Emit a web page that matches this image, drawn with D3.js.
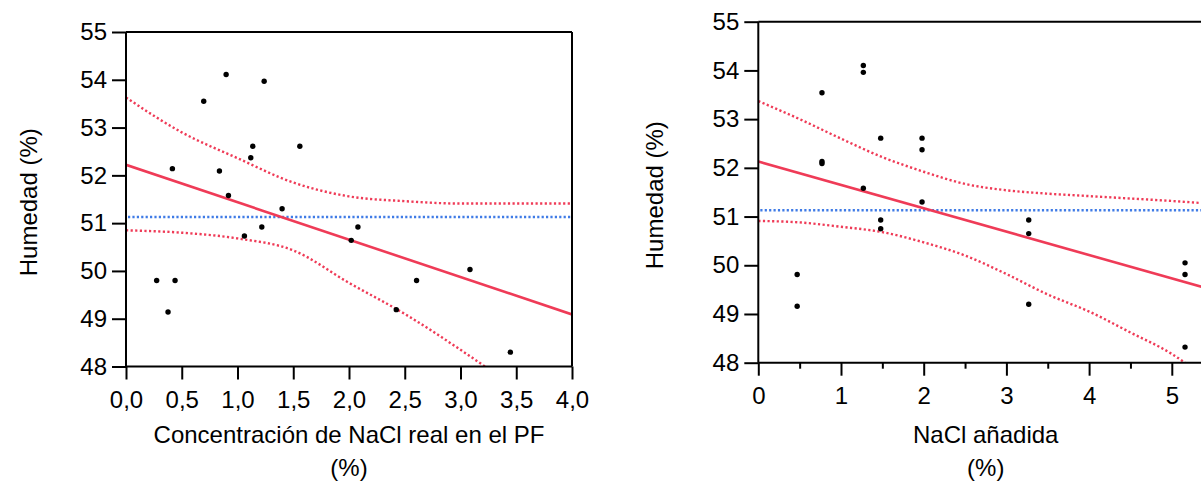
<!DOCTYPE html>
<html>
<head>
<meta charset="utf-8">
<script src="https://cdn.jsdelivr.net/npm/d3@7"></script>
<style>
  body { margin: 0; background: #fff; }
  svg { display: block; font-family: Arial, "Liberation Sans", sans-serif; }
</style>
</head>
<body>
<div id="grafico"></div>
<script>
// datos
var yTicks = [48, 49, 50, 51, 52, 53, 54, 55];
var xTicksReal = [0, 0.5, 1, 1.5, 2, 2.5, 3, 3.5, 4];
var xTicksAnadida = [0, 1, 2, 3, 4, 5];
var xMinorAnadida = [0.5, 1.5, 2.5, 3.5, 4.5, 5.5];

var naclReal = [0.416, 0.697, 0.898, 1.239, 1.137, 1.119, 1.559, 0.838, 0.919, 1.062, 1.218,
    1.40, 2.02, 2.08, 0.275, 0.44, 0.377, 3.085, 2.606, 2.424, 3.447];
var humedadReal = [52.14, 53.55, 54.11, 53.97, 52.61, 52.37, 52.61, 52.09, 51.58, 50.73, 50.92,
    51.30, 50.64, 50.92, 49.80, 49.80, 49.14, 50.03, 49.80, 49.19, 48.30];

var naclAnadida = [0.47, 0.47, 0.77, 0.77, 0.77, 1.27, 1.27, 1.27, 1.48, 1.48, 1.48,
    1.98, 1.98, 1.98, 3.27, 3.27, 3.27, 5.16, 5.16, 5.16];
var humedadAnadida = [49.81, 49.16, 53.54, 52.13, 52.09, 54.10, 53.96, 51.58, 52.61, 50.93, 50.75,
    52.61, 52.37, 51.30, 50.93, 50.65, 49.20, 50.05, 49.81, 48.32];

var mediaHumedad = 51.13;

// recta de regresion y bandas de confianza (leidas)
var rectaRealX = [0, 4];
var rectaRealY = [52.22, 49.09];
var bandaRealX = [0, 0.5, 1, 1.5, 2, 2.5, 3, 3.5, 4];
var bandaRealSup = [53.63, 52.9, 52.36, 51.85, 51.56, 51.46, 51.41, 51.41, 51.41];
var bandaRealInfX = [0, 0.5, 1, 1.5, 2, 2.5, 3, 3.22];
var bandaRealInf = [50.85, 50.80, 50.68, 50.43, 49.75, 49.1, 48.35, 48.0];

var rectaAnadidaX = [0, 5.5];
var rectaAnadidaY = [52.13, 49.49];
var bandaAnadidaX = [0, 0.5, 1, 1.5, 2, 2.5, 3, 3.5, 4, 4.5, 5, 5.5];
var bandaAnadidaSup = [53.37, 53.0, 52.6, 52.22, 51.92, 51.67, 51.54, 51.47, 51.42, 51.37, 51.32, 51.26];
var bandaAnadidaInfX = [0, 0.5, 1, 1.5, 2, 2.5, 3, 3.5, 4, 4.5, 5, 5.16];
var bandaAnadidaInf = [50.91, 50.88, 50.79, 50.68, 50.47, 50.2, 49.82, 49.4, 49.05, 48.62, 48.18, 48.0];

var rojo = "#ef3b57";
var azul = "#3f7be6";

var svg = d3.select("#grafico").append("svg")
    .attr("width", 1201)
    .attr("height", 485);

function zip(xs, ys) {
    return xs.map(function(x, i) { return [x, ys[i]]; });
}

function createPlot(cfg) {
    var x = d3.scaleLinear().domain(cfg.xDomain).range([cfg.left, cfg.right]);
    var y = d3.scaleLinear().domain([48, 55]).range([cfg.bottom, cfg.top]);

    var g = svg.append("g");

    g.append("clipPath").attr("id", cfg.id)
        .append("rect")
        .attr("x", cfg.left).attr("y", cfg.top)
        .attr("width", cfg.right - cfg.left).attr("height", cfg.bottom - cfg.top);

    var area = g.append("g").attr("clip-path", "url(#" + cfg.id + ")");
    var line = d3.line()
        .x(function(d) { return x(d[0]); })
        .y(function(d) { return y(d[1]); })
        .curve(d3.curveMonotoneX);

    // media
    area.append("line")
        .attr("x1", cfg.left + 2).attr("x2", cfg.right)
        .attr("y1", y(mediaHumedad)).attr("y2", y(mediaHumedad))
        .attr("stroke", azul).attr("stroke-width", 2.4)
        .attr("stroke-dasharray", "2.2,2.2");

    // bandas
    [zip(cfg.bandX, cfg.bandSup), zip(cfg.bandInfX, cfg.bandInf)].forEach(function(b) {
        area.append("path")
            .attr("d", line(b))
            .attr("fill", "none")
            .attr("stroke", rojo).attr("stroke-width", 2.4)
            .attr("stroke-dasharray", "2.2,2.4");
    });

    // regresion
    area.append("path")
        .attr("d", d3.line().x(function(d) { return x(d[0]); }).y(function(d) { return y(d[1]); })(zip(cfg.lineX, cfg.lineY)))
        .attr("fill", "none")
        .attr("stroke", rojo).attr("stroke-width", 2.6);

    // puntos
    g.selectAll(".pt").data(zip(cfg.px, cfg.py))
        .enter().append("circle")
        .attr("cx", function(d) { return x(d[0]); })
        .attr("cy", function(d) { return y(d[1]); })
        .attr("r", 2.7)
        .attr("fill", "#000");

    // marco
    g.append("line")
        .attr("x1", cfg.left).attr("x2", cfg.right)
        .attr("y1", cfg.top).attr("y2", cfg.top)
        .attr("stroke", "#000").attr("stroke-width", 2);
    if (cfg.rightBorder) {
        g.append("line")
            .attr("x1", cfg.right).attr("x2", cfg.right)
            .attr("y1", cfg.top).attr("y2", cfg.bottom)
            .attr("stroke", "#000").attr("stroke-width", 2);
    }

    var yAxis = d3.axisLeft(y).tickValues(yTicks).tickSize(14).tickPadding(5).tickFormat(d3.format("d"));
    var xAxis = d3.axisBottom(x).tickValues(cfg.xTicks).tickSize(13).tickPadding(11).tickFormat(cfg.fmt);

    var ya = g.append("g")
        .attr("transform", "translate(" + cfg.left + ",0)")
        .call(yAxis);
    var xa = g.append("g")
        .attr("transform", "translate(0," + cfg.bottom + ")")
        .call(xAxis);

    if (cfg.minor) {
        var xm = d3.axisBottom(x).tickValues(cfg.minor).tickSize(6).tickFormat("");
        g.append("g")
            .attr("transform", "translate(0," + cfg.bottom + ")")
            .call(xm)
            .call(function(s) { s.select(".domain").remove(); })
            .selectAll("line").attr("stroke-width", 2);
    }

    [ya, xa].forEach(function(a) {
        a.select(".domain").attr("stroke-width", 2).attr("stroke", "#000");
        a.selectAll(".tick line").attr("stroke-width", 2).attr("stroke", "#000");
        a.selectAll("text").attr("font-size", 24).attr("fill", "#000")
            .attr("font-family", "Arial, 'Liberation Sans', sans-serif");
    });
    ya.select(".domain").attr("d", "M0," + cfg.top + "V" + cfg.bottom);
    xa.select(".domain").attr("d", "M" + cfg.left + ",0H" + cfg.right);

    // etiquetas
    svg.append("text")
        .attr("transform", "translate(" + cfg.yLabelX + "," + ((cfg.top + cfg.bottom) / 2 + 3) + ") rotate(-90)")
        .attr("text-anchor", "middle")
        .attr("font-size", 24)
        .text("Humedad (%)");

    svg.append("text")
        .attr("x", (cfg.left + cfg.right) / 2)
        .attr("y", 443)
        .attr("text-anchor", "middle")
        .attr("font-size", 24)
        .text(cfg.xLabel);

    svg.append("text")
        .attr("x", (cfg.left + cfg.right) / 2)
        .attr("y", 476)
        .attr("text-anchor", "middle")
        .attr("font-size", 24)
        .text("(%)");
}

createPlot({
    id: "clipReal",
    left: 126, right: 572, top: 32, bottom: 366.5,
    xDomain: [0, 4],
    xTicks: xTicksReal,
    fmt: function(d) { return d3.format(".1f")(d).replace(".", ","); },
    px: naclReal, py: humedadReal,
    lineX: rectaRealX, lineY: rectaRealY,
    bandX: bandaRealX, bandSup: bandaRealSup,
    bandInfX: bandaRealInfX, bandInf: bandaRealInf,
    rightBorder: true,
    yLabelX: 37,
    xLabel: "Concentración de NaCl real en el PF"
});

createPlot({
    id: "clipAnadida",
    left: 758.3, right: 758.3 + 5.5 * 82.7, top: 21.7, bottom: 362.7,
    xDomain: [0, 5.5],
    xTicks: xTicksAnadida,
    minor: xMinorAnadida,
    fmt: d3.format("d"),
    px: naclAnadida, py: humedadAnadida,
    lineX: rectaAnadidaX, lineY: rectaAnadidaY,
    bandX: bandaAnadidaX, bandSup: bandaAnadidaSup,
    bandInfX: bandaAnadidaInfX, bandInf: bandaAnadidaInf,
    rightBorder: true,
    yLabelX: 663,
    xLabel: "NaCl añadida"
});
</script>
</body>
</html>
